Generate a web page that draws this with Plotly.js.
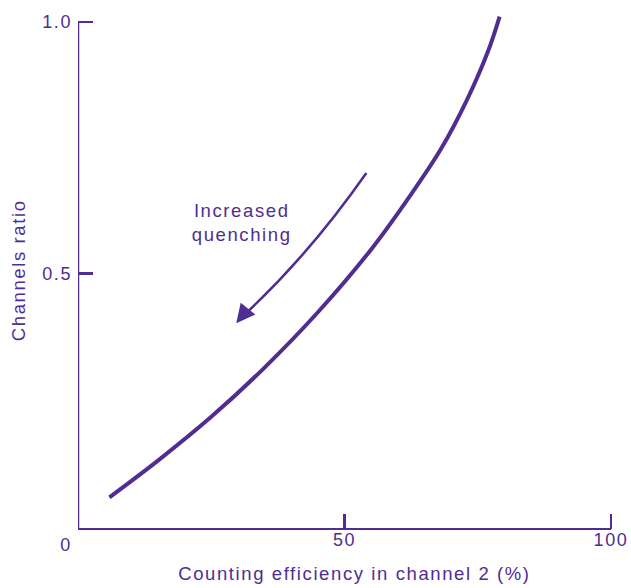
<!DOCTYPE html>
<html>
<head>
<meta charset="utf-8">
<script src="https://cdn.plot.ly/plotly-3.0.1.min.js"></script>
<style>
  html, body { margin: 0; padding: 0; background: #fff; }
  #chart { width: 631px; height: 588px; }
  /* wide tracking, as in the printed figure */
  #chart svg text { letter-spacing: 1.6px; }
</style>
</head>
<body>
<div id="chart"></div>
<script>
// Counting efficiency in channel 2 (%) vs channels ratio
const efficiency = [5.9, 15, 25, 35, 45, 55, 62, 68, 73, 77, 79.1];
const channelsRatio = [0.055, 0.128, 0.215, 0.313, 0.423, 0.548, 0.650, 0.746, 0.846, 0.944, 1.011];

const xTicks = [50, 100];
const xTickText = ['50', '100'];
const yTicks = [0.5, 1.0];
const yTickText = ['0.5', '1.0'];

const ink = '#502d91';
const fontFamily = '"Liberation Sans", Arial, sans-serif';

const trace = {
  x: efficiency,
  y: channelsRatio,
  type: 'scatter',
  mode: 'lines',
  line: { color: ink, width: 4, shape: 'spline', smoothing: 1 },
  hoverinfo: 'skip'
};

const layout = {
  width: 631,
  height: 588,
  margin: { l: 78, r: 4, t: 2, b: 59 },
  paper_bgcolor: '#fff',
  plot_bgcolor: '#fff',
  showlegend: false,
  font: { family: fontFamily, size: 18, color: ink },
  xaxis: {
    range: [0, 103],
    showgrid: false,
    zeroline: false,
    showline: false,
    ticks: 'inside',
    ticklen: 15,
    tickwidth: 2.5,
    tickcolor: ink,
    tickvals: xTicks,
    ticktext: xTickText,
    ticklabelstandoff: -2,
    tickfont: { family: fontFamily, size: 18, color: ink },
    fixedrange: true
  },
  yaxis: {
    range: [-0.008, 1.04],
    showgrid: false,
    zeroline: false,
    showline: false,
    ticks: 'inside',
    ticklen: 15,
    tickwidth: 2.5,
    tickcolor: ink,
    tickvals: yTicks,
    ticktext: yTickText,
    ticklabelstandoff: 5,
    tickfont: { family: fontFamily, size: 18, color: ink },
    fixedrange: true
  },
  shapes: [
    // horizontal axis, from 0 to 100 %
    { type: 'line', xref: 'x', yref: 'paper', x0: 0, x1: 100, y0: 0, y1: 0,
      line: { color: ink, width: 2 } },
    // vertical axis, stopping at the 1.0 tick
    { type: 'line', xref: 'x', yref: 'y', x0: 0, x1: 0, y0: -0.008, y1: 1.0,
      line: { color: ink, width: 2.5 } },
    // curved shaft of the "increased quenching" arrow
    { type: 'path', xref: 'x', yref: 'y',
      path: 'M 54.1,0.700 Q 43.4,0.538 31.2,0.418',
      line: { color: ink, width: 2.5 } }
  ],
  annotations: [
    { text: 'Counting efficiency in channel 2 (%)', xref: 'x', yref: 'paper',
      x: 51.8, y: -0.085, xanchor: 'center', yanchor: 'middle', showarrow: false,
      font: { family: fontFamily, size: 18.5, color: ink } },
    { text: 'Channels ratio', xref: 'paper', yref: 'paper',
      x: -0.1075, y: 0.4915, xanchor: 'center', yanchor: 'middle', textangle: -90,
      showarrow: false, font: { family: fontFamily, size: 18.5, color: ink } },
    { text: '0', xref: 'paper', yref: 'paper',
      x: -0.0219, y: -0.0304, xanchor: 'center', yanchor: 'middle', showarrow: false,
      font: { family: fontFamily, size: 18, color: ink } },
    { text: 'Increased<br>quenching', xref: 'x', yref: 'y',
      x: 30.6, y: 0.602, xanchor: 'center', yanchor: 'middle', showarrow: false,
      font: { family: fontFamily, size: 18.5, color: ink } },
    // arrowhead at the low-efficiency end of the shaft
    { text: '', xref: 'x', yref: 'y', x: 29.7, y: 0.401,
      showarrow: true, axref: 'pixel', ayref: 'pixel', ax: 12, ay: -15,
      arrowhead: 2, arrowsize: 1.5, arrowwidth: 2.5, arrowcolor: ink, standoff: 0 }
  ]
};

Plotly.newPlot('chart', [trace], layout, { staticPlot: true, displayModeBar: false });
</script>
</body>
</html>
